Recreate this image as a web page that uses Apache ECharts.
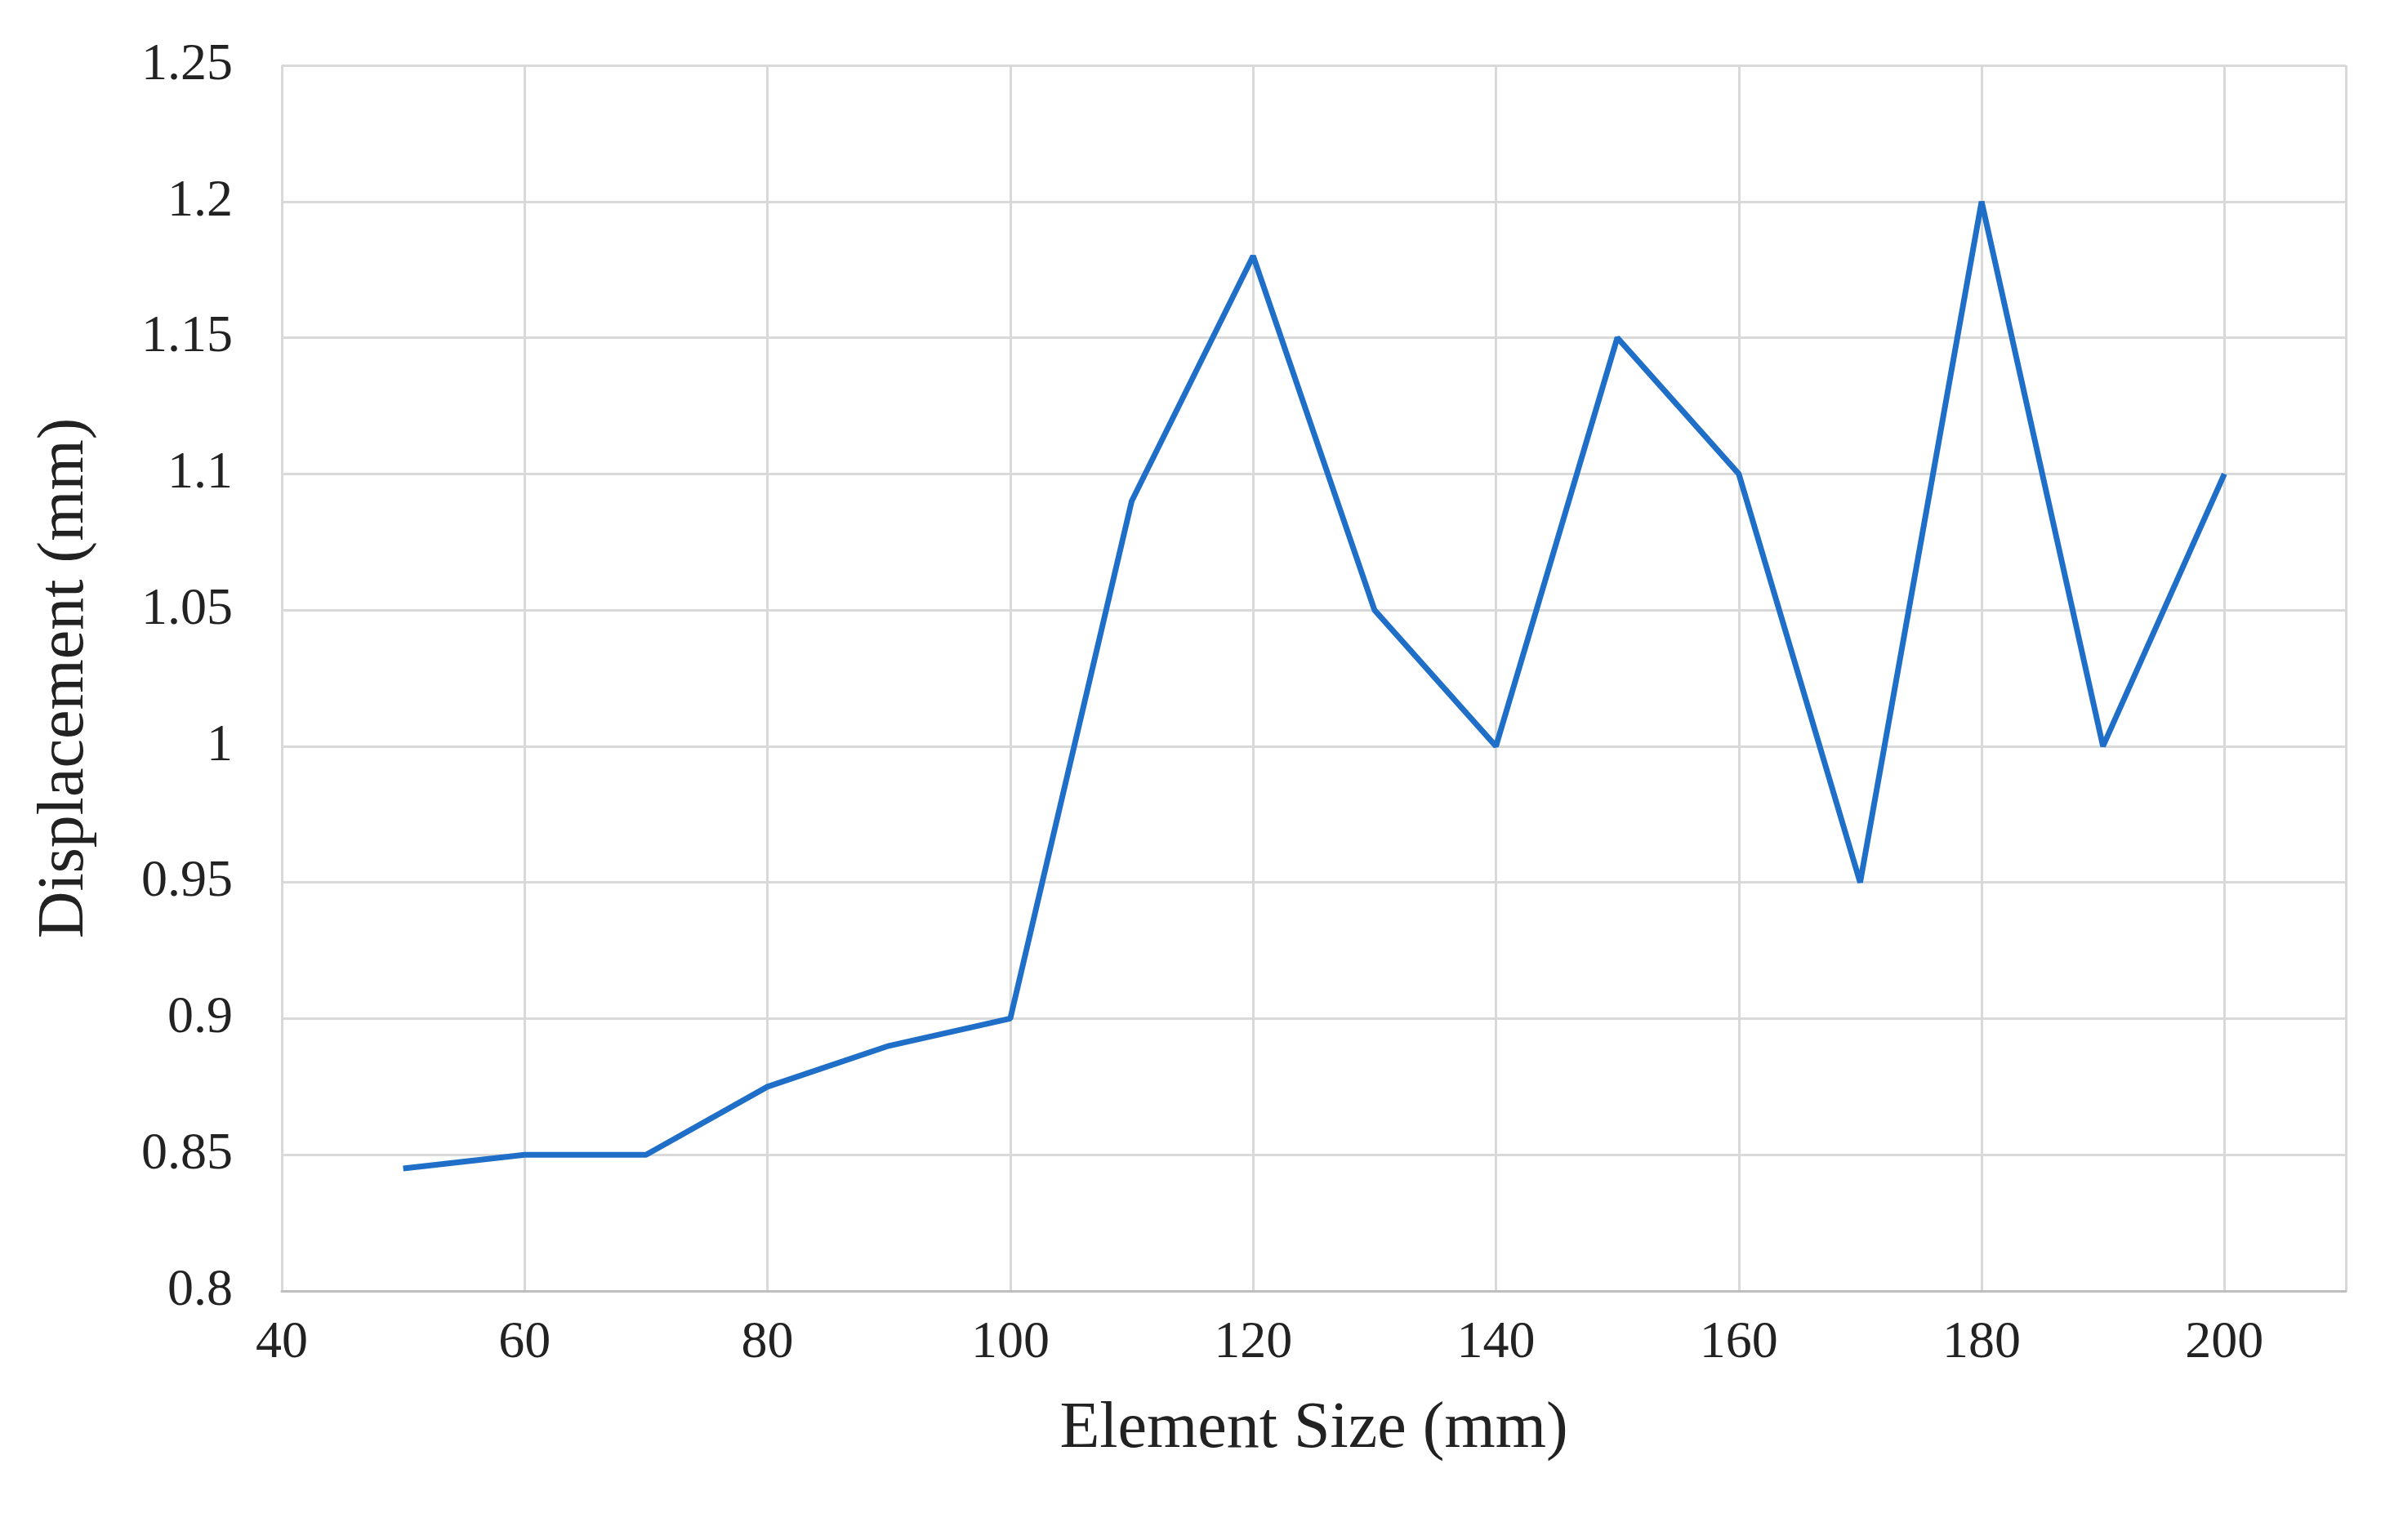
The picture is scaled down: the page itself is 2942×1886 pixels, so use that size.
<!DOCTYPE html>
<html>
<head>
<meta charset="utf-8">
<script src="https://cdn.jsdelivr.net/npm/echarts@6/dist/echarts.min.js"></script>
<style>html,body{margin:0;padding:0;background:#fff}#chart{width:2942px;height:1886px}</style>
</head>
<body>
<div id="chart"></div>
<script>
// element size (mm) and displacement (mm)
var elementSize = [50, 60, 70, 80, 90, 100, 110, 120, 130, 140, 150, 160, 170, 180, 190, 200];
var displacement = [0.845, 0.85, 0.85, 0.875, 0.89, 0.9, 1.09, 1.18, 1.05, 1.0, 1.15, 1.1, 0.95, 1.2, 1.0, 1.1];

var myChart = echarts.init(document.getElementById('chart'));
var font = 'Liberation Serif';
var option = {
	animation: false,
	grid: { left: 345, right: 70, top: 80, bottom: 305 },
	xAxis: {
		type: 'value', min: 40, max: 210, interval: 20,
		name: 'Element Size (mm)', nameLocation: 'middle', nameGap: 130,
		nameTextStyle: { fontFamily: font, fontSize: 80, color: '#222' },
		axisLine: { show: true, lineStyle: { color: '#bfbfbf', width: 3 } },
		axisTick: { show: false },
		axisLabel: { fontFamily: font, fontSize: 64, color: '#222', margin: 32, showMaxLabel: false },
		splitLine: { show: true, lineStyle: { color: '#d9d9d9', width: 3 } }
	},
	yAxis: {
		type: 'value', min: 0.8, max: 1.25, interval: 0.05,
		name: 'Displacement (mm)', nameLocation: 'middle', nameGap: 225,
		nameTextStyle: { fontFamily: font, fontSize: 80, color: '#222' },
		axisLine: { show: false },
		axisTick: { show: false },
		axisLabel: {
			fontFamily: font, fontSize: 64, color: '#222', margin: 60,
			formatter: function(v) { return String(+v.toFixed(2)); }
		},
		splitLine: { show: true, lineStyle: { color: '#d9d9d9', width: 3 } }
	},
	series: [{
		type: 'line',
		data: elementSize.map(function(x, i) { return [x, displacement[i]]; }),
		showSymbol: false,
		lineStyle: { color: '#1f6fc8', width: 7 }
	}]
};
myChart.setOption(option);
</script>
</body>
</html>
